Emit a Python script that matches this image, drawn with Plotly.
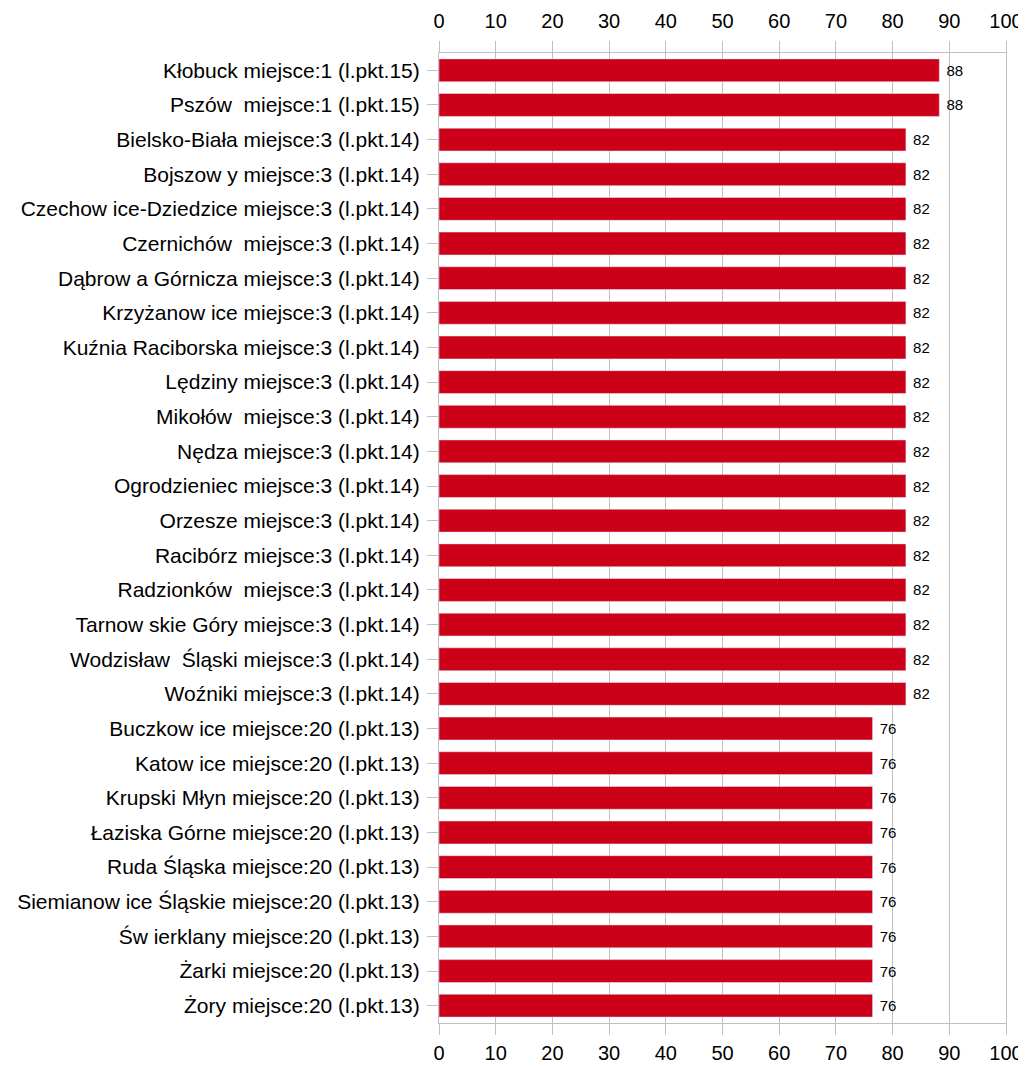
import plotly.graph_objects as go

categories = [
    "Kłobuck miejsce:1 (l.pkt.15)",
    "Pszów  miejsce:1 (l.pkt.15)",
    "Bielsko-Biała miejsce:3 (l.pkt.14)",
    "Bojszow y miejsce:3 (l.pkt.14)",
    "Czechow ice-Dziedzice miejsce:3 (l.pkt.14)",
    "Czernichów  miejsce:3 (l.pkt.14)",
    "Dąbrow a Górnicza miejsce:3 (l.pkt.14)",
    "Krzyżanow ice miejsce:3 (l.pkt.14)",
    "Kuźnia Raciborska miejsce:3 (l.pkt.14)",
    "Lędziny miejsce:3 (l.pkt.14)",
    "Mikołów  miejsce:3 (l.pkt.14)",
    "Nędza miejsce:3 (l.pkt.14)",
    "Ogrodzieniec miejsce:3 (l.pkt.14)",
    "Orzesze miejsce:3 (l.pkt.14)",
    "Racibórz miejsce:3 (l.pkt.14)",
    "Radzionków  miejsce:3 (l.pkt.14)",
    "Tarnow skie Góry miejsce:3 (l.pkt.14)",
    "Wodzisław  Śląski miejsce:3 (l.pkt.14)",
    "Woźniki miejsce:3 (l.pkt.14)",
    "Buczkow ice miejsce:20 (l.pkt.13)",
    "Katow ice miejsce:20 (l.pkt.13)",
    "Krupski Młyn miejsce:20 (l.pkt.13)",
    "Łaziska Górne miejsce:20 (l.pkt.13)",
    "Ruda Śląska miejsce:20 (l.pkt.13)",
    "Siemianow ice Śląskie miejsce:20 (l.pkt.13)",
    "Św ierklany miejsce:20 (l.pkt.13)",
    "Żarki miejsce:20 (l.pkt.13)",
    "Żory miejsce:20 (l.pkt.13)",
]
values = [88.24, 88.24] + [82.35] * 17 + [76.47] * 9
labels = [str(round(v)) for v in values]

tick_vals = list(range(0, 101, 10))

FONT = "Liberation Sans, Arial, sans-serif"
GRID = "#c0c0c0"

fig = go.Figure()
fig.add_trace(go.Bar(
    y=categories, x=values, orientation="h",
    marker=dict(color="#cc0019", line=dict(width=0)),
    text=labels, texttemplate="\u00a0%{text}", textposition="outside", cliponaxis=False,
    textfont=dict(family=FONT, size=15, color="#000000"),
    xaxis="x", yaxis="y", showlegend=False, hoverinfo="x+y",
))
fig.add_trace(go.Bar(
    y=categories, x=values, orientation="h",
    marker=dict(color="rgba(0,0,0,0)"),
    xaxis="x2", yaxis="y", showlegend=False, hoverinfo="skip",
))

axis_common = dict(
    range=[0, 100], tickvals=tick_vals, automargin=False,
    ticks="outside", ticklen=11, tickcolor=GRID, tickwidth=1,
    tickfont=dict(family=FONT, size=20, color="#000000"),
    showgrid=True, gridcolor=GRID, gridwidth=1,
    zeroline=False, showline=True, linecolor=GRID, linewidth=1,
)

fig.update_layout(
    width=1018, height=1058,
    margin=dict(l=431, r=20, t=45, b=43),
    paper_bgcolor="white", plot_bgcolor="white",
    bargap=0.34, barmode="overlay",
    font=dict(family=FONT, color="#000000"),
    xaxis=dict(side="bottom", mirror=True, ticklabelstandoff=1, **axis_common),
    xaxis2=dict(side="top", overlaying="x", matches="x", ticklabelstandoff=5, **axis_common),
    yaxis=dict(
        autorange="reversed", type="category", automargin=False,
        ticks="outside", ticklen=11, tickcolor=GRID, ticklabelstandoff=3,
        tickfont=dict(family=FONT, size=21, color="#000000"),
        showline=True, linecolor=GRID, mirror=True, showgrid=False,
    ),
)

fig.write_html("out.html")
